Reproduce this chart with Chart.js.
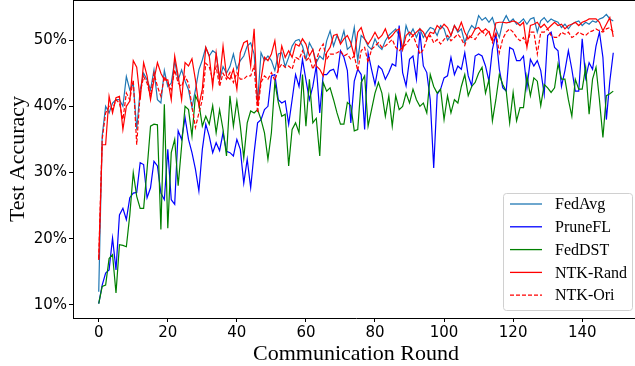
<!DOCTYPE html>
<html>
<head>
<meta charset="utf-8">
<script src="https://cdn.jsdelivr.net/npm/chart.js@4/dist/chart.umd.min.js"></script>
<style>
  html, body { margin: 0; padding: 0; background: #fff; overflow: hidden; }
  #wrap { width: 640px; height: 366px; }
</style>
</head>
<body>
<div id="wrap"><canvas id="accChart" width="640" height="366"></canvas></div>
<script>
// values, test accuracy in % per communication round (0..149)
const seriesNames = ['FedAvg', 'PruneFL', 'FedDST', 'NTK-Rand', 'NTK-Ori'];
const xTicks = [0, 20, 40, 60, 80, 100, 120, 140];
const yTicks = [10, 20, 30, 40, 50];

const fedAvg = [
    12, 35.5, 40, 39, 40.5, 41, 41, 40, 44.5, 42.5,
    43.5, 36.5, 42.5, 45, 44, 42.5, 45.5, 41, 40.5, 45.4,
    43, 43.5, 46.9, 44, 45.5, 43.8, 42.5, 39.8, 42.5, 45.5,
    47, 48.9, 47.6, 48.4, 48, 44, 46, 45, 46, 47.9,
    45.6, 46.9, 47.6, 49.1, 49.6, 47.9, 40.6, 48.1, 46.9, 47.6,
    46.9, 45.4, 47.9, 48.1, 46, 47.4, 49.1, 49.9, 50.1, 49.1,
    47.1, 49.6, 48.6, 46.6, 47.6, 47.1, 49.9, 51.4, 49.1, 50.7,
    49.6, 51.4, 48.6, 49.1, 51.9, 46.9, 50.7, 50.2, 49.1, 48.6,
    50.2, 49.1, 48.6, 49.9, 50.7, 51.2, 51.7, 50.7, 48.6, 52.2,
    50.7, 51.7, 50.4, 51.7, 50.4, 51.2, 51.9, 51.7, 50.7, 52.2,
    51.7, 50, 50.7, 52.2, 51.2, 51.7, 49.6, 51.2, 52.2, 51.7,
    53.7, 53, 53.4, 52.7, 53.4, 51.7, 50.4, 52.7, 53.7, 52.7,
    53.2, 52.4, 52.7, 53.2, 52.4, 53.2, 53.4, 51.2, 52.9, 53.4,
    52.7, 53.2, 52.9, 52.7, 51.9, 52.4, 51.7, 52.4, 52.7, 52.9,
    52.2, 52.7, 52.4, 52.9, 52.7, 53.2, 53.4, 53.9, 53.2, 52.9
];

const pruneFL = [
    10.2, 13, 14.8, 15.3, 20.1, 15.3, 23.6, 24.6, 22.9, 26.2,
    26.9, 27, 31.5, 31.2, 26.2, 27.7, 31.7, 31, 26.9, 25.9,
    33.5, 25.9, 25.2, 36.3, 35, 38.3, 35, 33, 30.5, 27.2,
    33.5, 37.3, 35.5, 33, 34.5, 33.3, 36, 33.2, 33, 32.5,
    35, 33.5, 28.4, 32, 27.7, 33, 37.5, 38, 39.5, 40,
    44.6, 44.8, 41, 40.5, 40.8, 37.3, 41, 44.8, 43, 47.1,
    44, 41, 43, 46.1, 39, 44.8, 44.8, 45.4, 45.6, 44.3,
    48.4, 47.4, 45.4, 37.5, 43.8, 45.6, 44.8, 36.5, 48.1, 45.6,
    43.3, 46.1, 45.6, 44.1, 45.1, 46.4, 46.1, 52.2, 45.1, 43.1,
    47.1, 47.6, 44.1, 51.2, 46.1, 45.1, 41, 30.7, 41.8, 42.6,
    44.3, 44.6, 47.4, 44.8, 46.1, 45.6, 48.1, 44.6, 43.1, 47.6,
    47.9, 47.6, 46.1, 43.8, 48.6, 50.9, 45.6, 42.8, 42.3, 48.9,
    48.6, 46.9, 46.9, 47.6, 42.8, 47.1, 46.1, 46.9, 45.4, 41.8,
    50.7, 51.2, 48.9, 48.4, 43, 45.4, 48.4, 45.6, 42.3, 42.3,
    50.2, 44.3, 46.6, 45.6, 49.1, 51.2, 47.4, 38, 43.8, 48.1
];

const fedDST = [
    10.2, 12.8, 13, 17, 17.6, 11.8, 19.1, 19, 18.8, 23.6,
    30, 26.4, 24.6, 24.6, 30.5, 37, 37.3, 37.2, 21.4, 40.3,
    21.6, 33, 35, 28, 34, 40, 39.5, 35.5, 41.6, 40.5,
    37, 38.5, 37.3, 40.1, 36, 39.5, 36.5, 32.5, 41.6, 37,
    40.8, 37, 32.2, 37.5, 39.3, 39, 39.5, 38, 36, 32,
    36, 43.6, 40.6, 38.5, 38.8, 31, 36.5, 37.5, 36, 44.8,
    37, 44.1, 37.5, 38.2, 32.5, 43.6, 42.3, 42.8, 41, 39,
    37.3, 37.3, 40.6, 40.1, 36.3, 36.5, 43.6, 44.6, 37, 39.5,
    42, 43.6, 42, 38.5, 41.6, 37, 41.6, 39.5, 40, 42,
    40.5, 42.6, 41, 40, 40.5, 39, 44.8, 43, 42, 42.6,
    38, 41.6, 39, 41, 40.5, 43, 44.8, 41.6, 43, 43.6,
    45, 45.9, 42, 44, 37.8, 41, 44.8, 43.3, 42.3, 37.5,
    42.1, 37.8, 39.8, 39.8, 44.6, 41.6, 44.3, 43.8, 40.1, 43.3,
    42.8, 42.1, 42.8, 46.4, 44.1, 44.1, 41, 38.5, 44.1, 42.6,
    42.6, 45.9, 38.8, 44.1, 45.9, 41, 35.3, 41.6, 41.9, 42.3
];

const ntkRand = [
    16.8, 34.2, 34.2, 41.5, 39, 41.3, 41.5, 36.5, 40, 40.8,
    46.9, 45.9, 41, 46.6, 44.6, 41, 44, 46.6, 45, 44,
    44, 41, 47.6, 44.6, 41, 46.6, 46.1, 47.2, 44, 40.1,
    42.6, 48.9, 47.6, 43, 48.1, 44, 49.1, 44.6, 44.1, 45.6,
    42.6, 48.1, 49.6, 49.9, 46.1, 51.7, 40.1, 44.1, 47.4, 46.9,
    47.9, 49.9, 45.6, 49.1, 47.4, 48.4, 47.4, 49.4, 49.1, 50.2,
    49.4, 47.6, 48.6, 46.1, 45.6, 44.6, 48.1, 48.9, 50.7, 50.9,
    49.4, 50.2, 50.7, 49.6, 47.6, 51.2, 51.9, 50.2, 49.4, 50.2,
    51.2, 50.2, 50.7, 51.7, 50.2, 50.7, 51.4, 51.7, 48.6, 50.7,
    51.2, 50.7, 51.2, 51.7, 51.2, 50.2, 51.2, 51, 52.2, 51.7,
    52.4, 51.9, 50.7, 52.2, 51.4, 52.7, 51.2, 50.2, 50.7, 51.7,
    51.9, 51.2, 51.7, 51.2, 50, 52.6, 52.7, 52.7, 52.6, 52.7,
    52.9, 52.7, 52.2, 52.7, 48.9, 52.2, 52.4, 52.7, 51.9, 52.4,
    51.7, 52.2, 52.7, 52.2, 52.4, 51.7, 52.2, 52.4, 52.7, 52.2,
    52.7, 52.9, 53.2, 53.2, 53.2, 52.7, 51.4, 52.4, 53.4, 50.5
];

const ntkOri = [
    17, 35, 39, 40, 39.5, 41, 40.5, 38, 42, 41,
    44, 34.2, 42, 44.5, 43.5, 41.5, 45, 43, 41.5, 44.5,
    43.5, 42.5, 45.5, 43.5, 43, 44.5, 43.5, 40, 36.8, 39,
    41, 46.5, 46, 44, 46, 43, 45, 44.1, 45.1, 43.6,
    45.1, 44.1, 44.1, 44.6, 44.6, 46.1, 39, 43.6, 44.6, 44.1,
    45.1, 43.9, 45.6, 46.4, 45.9, 46.1, 45.6, 47.4, 47.1, 48.4,
    46.9, 47.4, 45.6, 46.9, 48.6, 49.4, 47.1, 47.9, 47.9, 48.1,
    48.4, 47.6, 47.9, 47.1, 47.6, 45.4, 48.4, 48.9, 46.6, 48.6,
    49.1, 49.6, 48.9, 49.1, 49.6, 50.1, 48.9, 48.4, 48.9, 49.4,
    50.1, 50.7, 49.4, 47.9, 48.6, 50.1, 50.7, 49.6, 50.1, 49.4,
    50.1, 50.7, 49.9, 50.4, 50.9, 50.2, 49.2, 50.7, 50.4, 50.1,
    50.9, 51.4, 50.7, 51.4, 49.6, 51.2, 48.1, 50.2, 51.2, 51.7,
    51.2, 50.4, 49.9, 50.4, 49.2, 51.2, 51.2, 47.9, 51.2, 51.2,
    51.7, 50.7, 50.4, 50.4, 51.2, 50.9, 51.2, 50.4, 50.7, 51.2,
    50.9, 50.7, 51.2, 51.4, 51.7, 51.4, 51.2, 51.7, 51.9, 51.2
];

const rounds = fedAvg.map((_, i) => i);
const toPoints = arr => arr.map((v, i) => ({ x: rounds[i], y: v }));

const colors = ['#1f77b4', '#0000ff', '#008000', '#ff0000', '#ff0000'];
const dashes = [[], [], [], [], [4, 2]];
const allSeries = [fedAvg, pruneFL, fedDST, ntkRand, ntkOri];

// legend box drawn inside the plot, bottom right, like matplotlib
const boxLegend = {
    id: 'boxLegend',
    afterDatasetsDraw(chart) {
        const ctx = chart.ctx;
        const x0 = 503, y0 = 193, w = 129, h = 117;
        ctx.save();
        ctx.beginPath();
        ctx.roundRect(x0 + 0.5, y0 + 0.5, w, h, 3);
        ctx.fillStyle = 'rgba(255,255,255,0.85)';
        ctx.fill();
        ctx.strokeStyle = '#d0d0d0';
        ctx.lineWidth = 1;
        ctx.stroke();
        ctx.font = '16px "Liberation Serif", "Times New Roman", serif';
        ctx.textBaseline = 'middle';
        chart.data.datasets.forEach((ds, i) => {
            const y = 204 + i * 22.8;
            ctx.beginPath();
            ctx.setLineDash(ds.borderDash || []);
            ctx.strokeStyle = ds.borderColor;
            ctx.lineWidth = 1.3;
            ctx.moveTo(510, y);
            ctx.lineTo(542, y);
            ctx.stroke();
            ctx.setLineDash([]);
            ctx.fillStyle = '#000';
            ctx.fillText(ds.label, 555, y + 1);
        });
        ctx.restore();
    },
    afterDraw(chart) {
        const { ctx, chartArea } = chart;
        ctx.save();
        ctx.strokeStyle = '#000';
        ctx.lineWidth = 1;
        ctx.beginPath();
        ctx.moveTo(chartArea.left, chartArea.top + 0.5);
        ctx.lineTo(chartArea.right, chartArea.top + 0.5);
        ctx.stroke();
        ctx.restore();
    }
};

new Chart(document.getElementById('accChart').getContext('2d'), {
    type: 'line',
    data: {
        datasets: seriesNames.map((name, i) => ({
            label: name,
            data: toPoints(allSeries[i]),
            borderColor: colors[i],
            backgroundColor: colors[i],
            borderDash: dashes[i],
            borderWidth: 1.2,
            pointRadius: 0,
            tension: 0,
            fill: false,
            order: 5 - i
        }))
    },
    options: {
        responsive: false,
        animation: false,
        events: [],
        layout: { padding: { top: 0, right: 1, left: 0, bottom: 0 } },
        plugins: { legend: { display: false }, tooltip: { enabled: false } },
        scales: {
            x: {
                type: 'linear',
                min: -7.45,
                max: 156.45,
                afterBuildTicks: s => { s.ticks = xTicks.map(v => ({ value: v })); },
                afterFit: s => { s.height = 48; },
                ticks: { color: '#000', padding: 2, maxRotation: 0, font: { family: '"DejaVu Sans", sans-serif', size: 15 } },
                grid: { display: true, drawOnChartArea: false, drawTicks: true, tickLength: 4, color: '#000' },
                border: { display: true, color: '#000', width: 1 },
                title: {
                    display: true, text: 'Communication Round', color: '#000',
                    font: { family: '"Liberation Serif", "Times New Roman", serif', size: 22, lineHeight: 1 },
                    padding: { top: 0, bottom: 1 }
                }
            },
            y: {
                min: 8.03,
                max: 56.06,
                afterBuildTicks: s => { s.ticks = yTicks.map(v => ({ value: v })); },
                afterFit: s => { s.width = 73; s.paddingTop = 0; s.paddingBottom = 0; },
                ticks: { color: '#000', padding: 2, callback: v => v + '%', font: { family: '"DejaVu Sans", sans-serif', size: 15 } },
                grid: { display: true, drawOnChartArea: false, drawTicks: true, tickLength: 4, color: '#000' },
                border: { display: true, color: '#000', width: 1 },
                title: {
                    display: true, text: 'Test Accuracy', color: '#000',
                    font: { family: '"Liberation Serif", "Times New Roman", serif', size: 22, lineHeight: 1 },
                    padding: { top: 7, bottom: 0 }
                }
            }
        }
    },
    plugins: [boxLegend]
});
</script>
</body>
</html>
